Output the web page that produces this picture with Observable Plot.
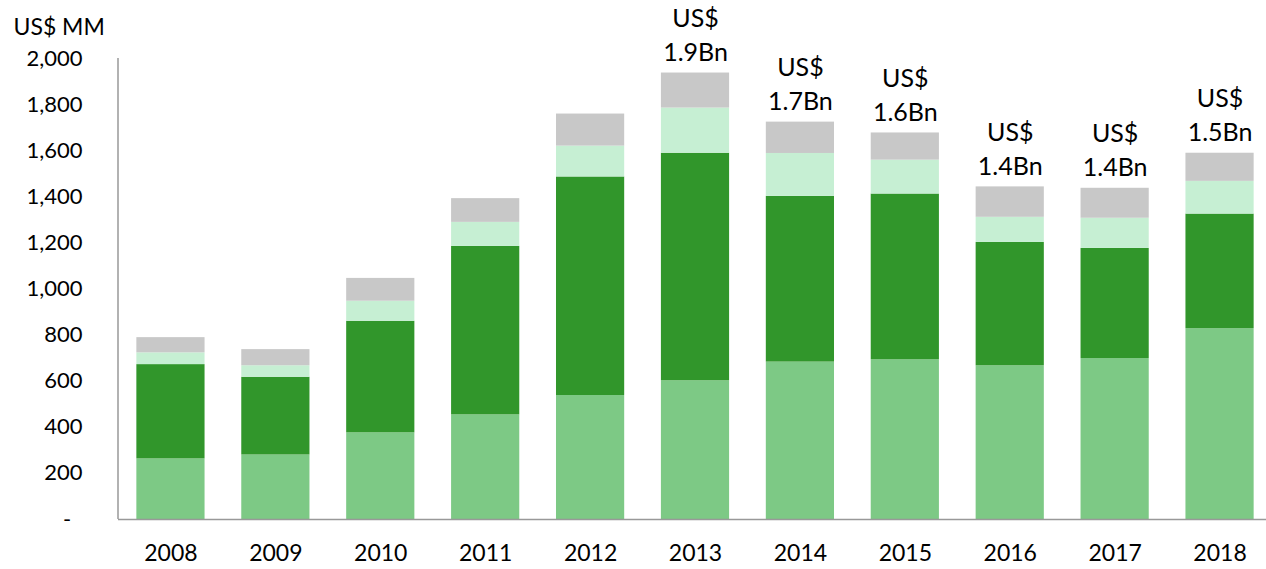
<!DOCTYPE html>
<html>
<head>
<meta charset="utf-8">
<script src="https://cdn.jsdelivr.net/npm/d3@7"></script>
<script src="https://cdn.jsdelivr.net/npm/@observablehq/plot@0.6"></script>
<style>
  html, body { margin: 0; padding: 0; background: #fff; }
  #chart { width: 1266px; height: 569px; overflow: hidden; }
</style>
</head>
<body>
<div id="chart"></div>
<script>
const years = ["2008","2009","2010","2011","2012","2013","2014","2015","2016","2017","2018"];
const seriesNames = ["Series A", "Series B", "Series C", "Series D"];
const seriesA = [263, 280, 376, 454, 538, 602, 683, 693, 667, 698, 828];
const seriesB = [409, 337, 484, 731, 948, 987, 719, 719, 535, 478, 497];
const seriesC = [51, 50, 87, 104, 134, 196, 186, 147, 109, 131, 142];
const seriesD = [66, 70, 99, 103, 139, 152, 136, 118, 132, 130, 122];
const seriesColors = ["#7dc985", "#31962b", "#c6efd3", "#c8c8c8"];
const yTicks = [0, 200, 400, 600, 800, 1000, 1200, 1400, 1600, 1800, 2000];
const annotationYears = ["2013","2014","2015","2016","2017","2018"];
const annotationLabels = ["US$\n1.9Bn", "US$\n1.7Bn", "US$\n1.6Bn", "US$\n1.4Bn", "US$\n1.4Bn", "US$\n1.5Bn"];

const allSeries = [seriesA, seriesB, seriesC, seriesD];
const data = [];
allSeries.forEach((vals, s) => {
  years.forEach((yr, i) => data.push({year: yr, series: seriesNames[s], value: vals[i]}));
});
const totals = years.map((yr, i) => allSeries.reduce((a, v) => a + v[i], 0));
const annotations = annotationYears.map((yr, i) => ({
  year: yr,
  total: totals[years.indexOf(yr)],
  label: annotationLabels[i]
}));

const yAxisLine = (index, scales, values, dims) => {
  const line = d3.create("svg:line")
    .attr("x1", dims.marginLeft).attr("x2", dims.marginLeft)
    .attr("y1", scales.y(2000)).attr("y2", scales.y(0))
    .attr("stroke", "#999").attr("stroke-width", 1.5);
  return line.node();
};

const chart = Plot.plot({
  width: 1266,
  height: 569,
  marginLeft: 118,
  marginRight: -6,
  marginTop: 58,
  marginBottom: 50,
  style: {fontFamily: "Lato, 'Open Sans', sans-serif", color: "#000", background: "#fff"},
  x: {domain: years, paddingInner: 0.35, paddingOuter: 0.175, round: false, label: null},
  y: {domain: [0, 2000], label: null},
  color: {domain: seriesNames, range: seriesColors},
  marks: [
    Plot.barY(data, {x: "year", y: "value", fill: "series"}),
    Plot.ruleY([0], {stroke: "#999", strokeWidth: 1.5}),
    yAxisLine,
    Plot.axisY({
      ticks: yTicks, tickSize: 0, tickPadding: 36, fontSize: 22,
      tickFormat: d => d === 0 ? "-\u00a0\u00a0" : d3.format(",")(d),
      label: null
    }),
    Plot.axisX({tickSize: 0, tickPadding: 25, fontSize: 23, label: null}),
    Plot.text(annotations, {
      x: "year", y: "total", text: "label",
      lineAnchor: "bottom", dy: -12, fontSize: 25, lineHeight: 1.36, fill: "#000"
    }),
    Plot.text(["US$ MM"], {
      frameAnchor: "top-left", text: d => d, textAnchor: "start",
      dx: -105, dy: -40, fontSize: 23, fill: "#000"
    })
  ]
});
document.getElementById("chart").appendChild(chart);
</script>
</body>
</html>
